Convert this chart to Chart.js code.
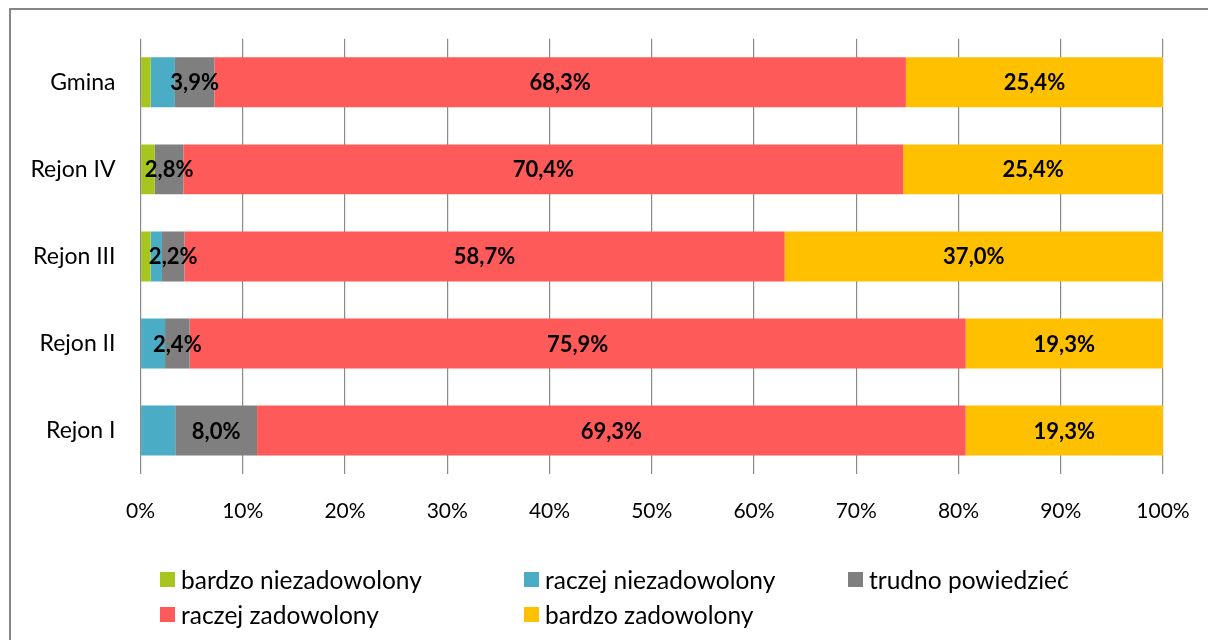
<!DOCTYPE html>
<html>
<head>
<meta charset="utf-8">
<script src="https://cdn.jsdelivr.net/npm/chart.js@4.4.1/dist/chart.umd.min.js"></script>
<style>
  html, body { margin: 0; padding: 0; background: #fff; overflow: hidden; }
  body { width: 1208px; height: 640px; position: relative; font-family: Lato, "Open Sans", sans-serif; }
  #frame { position: absolute; left: 9px; top: 8px; width: 1400px; height: 900px; border: 2.5px solid #868686; box-sizing: border-box; pointer-events: none; }
  #wrap { position: absolute; left: 0; top: 0; width: 1208px; height: 640px; }
  #legend { position: absolute; left: 0; top: 0; width: 1208px; height: 640px; pointer-events: none; }
  .item { position: absolute; display: flex; align-items: center; font-size: 24.5px; color: #000; white-space: nowrap; height: 30px; }
  .box { width: 15px; height: 15px; margin-right: 6px; flex: none; }
</style>
</head>
<body>
<div id="frame"></div>
<div id="wrap"><canvas id="c" width="1208" height="640"></canvas></div>
<div id="legend"></div>
<script>
// ---- data ----
const categories = ['Gmina', 'Rejon IV', 'Rejon III', 'Rejon II', 'Rejon I'];
const seriesNames = ['bardzo niezadowolony', 'raczej niezadowolony', 'trudno powiedzieć', 'raczej zadowolony', 'bardzo zadowolony'];
const bardzoNiezadowolony = [1.0, 1.4, 1.0, 0, 0];
const raczejNiezadowolony = [2.4, 0, 1.1, 2.4, 3.4];
const trudnoPowiedziec   = [3.9, 2.8, 2.2, 2.4, 8.0];
const raczejZadowolony   = [68.3, 70.4, 58.7, 75.9, 69.3];
const bardzoZadowolony   = [25.4, 25.4, 37.0, 19.3, 19.3];
const labelledSeries = [2, 3, 4];
const xTickValues = [0, 10, 20, 30, 40, 50, 60, 70, 80, 90, 100];

// ---- styles ----
const colors = ['#A6C61F', '#4BACC6', '#7F7F7F', '#FF5A5A', '#FFC000'];
const rawSeries = [bardzoNiezadowolony, raczejNiezadowolony, trudnoPowiedziec, raczejZadowolony, bardzoZadowolony];

// 100% stacked: normalise each category to its total
const totals = categories.map((_, i) => rawSeries.reduce((s, arr) => s + arr[i], 0));
const datasets = rawSeries.map((arr, k) => ({
  label: seriesNames[k],
  data: arr.map((v, i) => v / totals[i] * 100),
  raw: arr,
  backgroundColor: colors[k],
  borderWidth: 0,
  barPercentage: 0.574,
  categoryPercentage: 1.0
}));

const fmt = v => v.toFixed(1).replace('.', ',') + '%';

const labelPlugin = {
  id: 'segLabels',
  afterDatasetsDraw(chart) {
    const ctx = chart.ctx;
    ctx.save();
    ctx.font = 'bold 22px Lato, "Open Sans", sans-serif';
    ctx.fillStyle = '#000';
    ctx.textAlign = 'center';
    ctx.textBaseline = 'middle';
    labelledSeries.forEach(k => {
      const meta = chart.getDatasetMeta(k);
      meta.data.forEach((el, i) => {
        const v = chart.data.datasets[k].raw[i];
        if (!v) return;
        const x = (el.x + el.base) / 2;
        ctx.fillText(fmt(v), x, el.y + 1);
      });
    });
    ctx.restore();
  }
};

const chart = new Chart(document.getElementById('c'), {
  type: 'bar',
  data: { labels: categories, datasets },
  options: {
    indexAxis: 'y',
    responsive: false,
    animation: false,
    layout: { padding: { top: 38, right: 45, bottom: 0, left: 0 } },
    plugins: { legend: { display: false }, tooltip: { enabled: false } },
    scales: {
      x: {
        stacked: true,
        min: 0, max: 100,
        afterBuildTicks: s => { s.ticks = xTickValues.map(v => ({ value: v })); },
        afterFit: s => { s.height = 166; s.paddingLeft = 0; s.paddingRight = 0; },
        grid: { color: '#8A8A8A', lineWidth: 1.2, drawTicks: false },
        border: { display: false },
        ticks: {
          padding: 25,
          color: '#000',
          font: { size: 21, family: 'Lato, "Open Sans", sans-serif' },
          callback: v => v + '%',
          maxRotation: 0
        }
      },
      y: {
        stacked: true,
        afterFit: s => { s.width = 140.5; },
        grid: { display: false, drawTicks: false },
        border: { display: false },
        ticks: {
          padding: 25,
          color: '#000',
          font: { size: 23, family: 'Lato, "Open Sans", sans-serif' }
        }
      }
    }
  },
  plugins: [labelPlugin]
});

// ---- legend (grid layout, built from chart datasets) ----
const legendPos = [[160, 579], [524, 579], [848, 579], [160, 614], [524, 614]];
const legendEl = document.getElementById('legend');
chart.data.datasets.forEach((ds, k) => {
  const it = document.createElement('div');
  it.className = 'item';
  it.style.left = legendPos[k][0] + 'px';
  it.style.top = (legendPos[k][1] - 15) + 'px';
  const b = document.createElement('span');
  b.className = 'box';
  b.style.background = ds.backgroundColor;
  const t = document.createElement('span');
  t.textContent = ds.label;
  it.appendChild(b); it.appendChild(t);
  legendEl.appendChild(it);
});
</script>
</body>
</html>
